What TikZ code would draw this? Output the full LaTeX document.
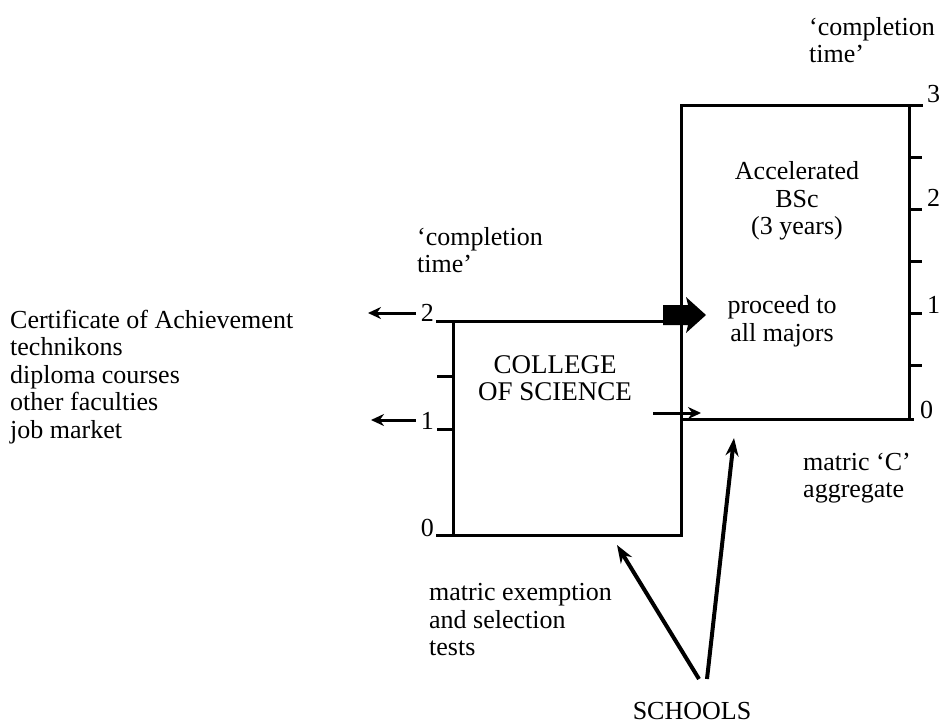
\documentclass[tikz,border=0pt]{standalone}
\usepackage{fontspec}
\setmainfont{Liberation Serif}
\usetikzlibrary{arrows.meta}
\begin{document}
\begin{tikzpicture}[x=1pt,y=-1pt,
  txt/.style={inner sep=0pt, font=\fontsize{26}{27.5}\selectfont, align=left},
  boxtxt/.style={inner sep=0pt, font=\fontsize{27}{27.5}\selectfont, align=center},
  axis/.style={line width=3pt},
  flow/.style={line width=3pt, -{Stealth[length=13pt,width=12pt]}},
  feed/.style={line width=4pt, -{Stealth[length=18pt,width=13pt]}},
  num/.style={inner sep=0pt, font=\fontsize{26}{27}\selectfont}
]
\useasboundingbox (0,0) rectangle (943,724);

% corners of the two programme boxes
\coordinate (c-tl) at (453,321);
\coordinate (c-bl) at (453,535);
\coordinate (c-br) at (681,535);
\coordinate (a-tl) at (681,105);
\coordinate (a-tr) at (909,105);
\coordinate (a-br) at (909,419);
\coordinate (a-bl) at (681,419);

% College of Science box with its time axis on the left
\draw[axis] (436,321) -- (681,321);
\draw[axis] (c-tl) -- (c-bl);
\draw[axis] (436,535) -- (c-br) -- (a-tl) -- (923,105);
\draw[axis] (437,376) -- (453,376);
\draw[axis] (437,429) -- (453,429);

% Accelerated BSc box with its time axis on the right
\draw[axis] (a-tr) -- (a-br);
\draw[axis] (a-bl) -- (914,419);
\foreach \yy in {157,209,261,313,365}
  \draw[axis] (909,\yy) -- (922,\yy);

% axis numbers
\node[num, anchor=base east] (l2) at (434,321) {2};
\node[num, anchor=base east] (l1) at (434,429) {1};
\node[num, anchor=base east] (l0) at (434,536) {0};
\node[num, anchor=base west] (r3) at (927,102) {3};
\node[num, anchor=base west] (r2) at (927,206) {2};
\node[num, anchor=base west] (r1) at (927,313) {1};
\node[num, anchor=base west] (r0) at (920,418) {0};

% exits to the left
\coordinate (out2) at (368,313);
\coordinate (out1) at (371,420);
\draw[flow] ([xshift=-5pt]l2.west |- out2) -- (out2);
\draw[flow] ([xshift=-5pt]l1.west |- out1) -- (out1);

\node[txt, anchor=west] (exits) at (10,377)
  {Certificate of Achievement\\technikons\\diploma courses\\other faculties\\job market};

% time captions
\node[txt, anchor=west] (ctimeL) at (417,250) {‘completion\\time’};
\node[txt, anchor=west] (ctimeR) at (809,40) {‘completion\\time’};

% box texts
\node[boxtxt] (college) at (555,378) {COLLEGE\\OF SCIENCE};
\node[txt, align=center] (accel) at (797,201) {Accelerated\\BSc\\(3 years)};
\node[txt, align=center] (proceed) at (782,321) {proceed to\\all majors};

% transfer from the college into the accelerated programme
\fill (663,305) -- (688,305) -- (686,297) -- (706,315) -- (686,333) -- (688,325) -- (663,325) -- cycle;
\coordinate (tr-a) at (653,413);
\coordinate (tr-b) at (701,413);
\draw[flow] (tr-a) -- (tr-b);

% entry requirements
\node[txt, anchor=west] (exempt) at (429,620) {matric exemption\\and selection\\tests};
\node[txt, anchor=west] (cagg) at (803,478) {matric ‘C’\\aggregate};

% schools feeding both programmes
\node[txt] (schools) at (692,711) {SCHOOLS};
\coordinate (s-l) at (699,679);
\coordinate (s-r) at (707,679);
\coordinate (in-c) at (617,545);
\coordinate (in-a) at (734,438);
\draw[feed] (s-l) -- (in-c);
\draw[feed] (s-r) -- (in-a);
\end{tikzpicture}
\end{document}
